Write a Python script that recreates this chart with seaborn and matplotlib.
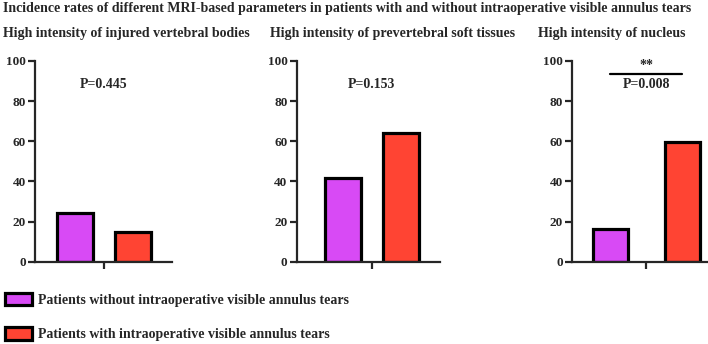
import matplotlib
matplotlib.use("Agg")
import matplotlib.pyplot as plt
import seaborn as sns
import pandas as pd

# data
panels = ["High intensity of injured vertebral bodies",
          "High intensity of prevertebral soft tissues",
          "High intensity of nucleus"]
groups = ["Patients without intraoperative visible annulus tears",
          "Patients with intraoperative visible annulus tears"]
without_tears = [24.4, 41.5, 16.1]
with_tears = [14.9, 64.2, 59.7]
p_values = ["P=0.445", "P=0.153", "P=0.008"]
stars = ["", "", "**"]
title = ("Incidence rates of different MRI-based parameters in patients "
         "with and without intraoperative visible annulus tears")

sns.set_style("ticks")
plt.rcParams["font.family"] = ["Liberation Serif", "DejaVu Serif"]
plt.rcParams["font.weight"] = "bold"

colors = ["#D84AF5", "#FF4433"]

fig = plt.figure(figsize=(7.08, 3.44), dpi=100)

# axes placement in figure fractions (left, width) and per-panel bar spacing
boxes = [(0.0494, 0.1935), (0.419, 0.2024), (0.8075, 0.192)]
xlims = [(-0.476, 0.469), (-0.517, 0.471), (-0.416, 0.342)]
gaps = [0.38, 0.38, 0.51]
title_x = [0.004, 0.381, 0.760]

handles = None
for i, name in enumerate(panels):
    left, width = boxes[i]
    ax = fig.add_axes([left, 0.239, width, 0.584])
    df = pd.DataFrame({"panel": [name, name],
                       "group": groups,
                       "rate": [without_tears[i], with_tears[i]]})
    sns.barplot(data=df, x="panel", y="rate", hue="group", palette=colors,
                saturation=1, gap=gaps[i], edgecolor="black", linewidth=2.3,
                ax=ax, legend=(i == 0))
    if i == 0:
        handles, labels = ax.get_legend_handles_labels()
        ax.get_legend().remove()

    ax.set_ylim(0, 100)
    ax.set_xlim(*xlims[i])
    ax.set_yticks([0, 20, 40, 60, 80, 100])
    ax.set_xticks([0])
    ax.set_xticklabels([""])
    ax.set_xlabel("")
    ax.set_ylabel("")
    for lab in ax.get_yticklabels():
        lab.set_fontweight("bold")
        lab.set_fontsize(9.5)
    ax.tick_params(axis="both", width=1.6, length=5, pad=1.5)
    for s in ["left", "bottom"]:
        ax.spines[s].set_linewidth(1.6)
    sns.despine(ax=ax)
    ax.patch.set_alpha(0)

    ax.text(0, 88, p_values[i], ha="center", va="center",
            fontsize=10, fontweight="bold")
    if stars[i]:
        ax.plot([-0.2, 0.2], [93.4, 93.4], color="black", lw=1.6,
                clip_on=False)
        ax.text(0, 94.5, stars[i], ha="center", va="bottom",
                fontsize=10, fontweight="bold")

    fig.text(title_x[i], 0.903, name, ha="left", va="center",
             fontsize=10, fontweight="bold")

fig.text(0.004, 0.975, title, ha="left", va="center",
         fontsize=10, fontweight="bold")

fig.legend(handles, labels, loc="lower left", bbox_to_anchor=(-0.011, -0.028),
           frameon=False, handlelength=2.0, handleheight=1.0,
           labelspacing=1.45, handletextpad=0.4,
           prop={"weight": "bold", "size": 10})

fig.savefig("out.png", dpi=100)
